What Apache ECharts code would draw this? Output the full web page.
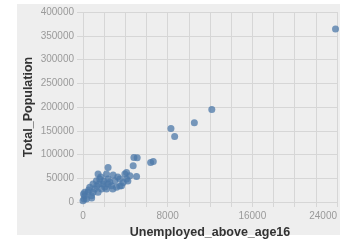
<!DOCTYPE html>
<html>
<head>
<meta charset="utf-8">
<script src="https://cdn.jsdelivr.net/npm/echarts@6/dist/echarts.min.js"></script>
<style>
  html, body { margin: 0; padding: 0; background: #fff; }
  #chart { width: 351px; height: 244px; }
</style>
</head>
<body>
<div id="chart"></div>
<script>
// values
const unemployed = [
    23860, 12170, 10520, 8310, 8660, 4810, 5120, 4740, 6390, 6640, 5060, 2370,
    100, 160, 474, 635, 948, 1270, 1583, 1422, 2218, 2844, 2370, 3005, 3479, 3953,
    4114, 4427, 3640, 3166, 2692, 2218, 1744, 1422, 948, 796, 322, 0, 1109, 1896,
    4114, 3792, 2370, 161, 50, 540, 1300, 1960, 2530, 3290, 820, 1490, 2060, 2815,
    3480, 4240, 1680
]
const population = [
    364300, 195000, 167100, 154500, 137800, 93700, 92900, 76100, 83200, 85300, 53900, 72800,
    6300, 13200, 20300, 30800, 37700, 44700, 48200, 58700, 58700, 57000, 48200, 44700, 48200, 58700,
    48200, 55200, 34200, 30800, 34200, 27300, 27300, 20300, 20300, 13200, 6300, 2700, 27300, 37700,
    62300, 41300, 37700, 20300, 16800, 25200, 33500, 44000, 41900, 52400, 8400, 37700, 31500, 27300,
    33500, 44000, 52400
]
const xTitle = 'Unemployed_above_age16'
const yTitle = 'Total_Population'

let myChart = echarts.init(document.getElementById('chart'))
const points = unemployed.map((item, index) => {
    return [item, population[index]]
})
const gridColor = '#d6d6d6'
const labelStyle = {
    color: '#9a9a9a',
    fontSize: 10,
    fontFamily: 'Liberation Sans, Arial, sans-serif'
}
const nameStyle = {
    color: '#333',
    fontSize: 12.5,
    fontWeight: 'bold',
    fontFamily: 'Liberation Sans, Arial, sans-serif'
}
const options = {
    animation: false,
    graphic: [{
        type: 'rect',
        left: 17,
        top: 4,
        shape: { width: 323, height: 231 },
        style: { fill: '#eeeeee' },
        z: -10
    }],
    grid: {
        left: 83,
        right: 14,
        top: 12,
        bottom: 41,
        containLabel: false
    },
    xAxis: {
        type: 'value',
        min: 0,
        max: 24000,
        interval: 2000,
        name: xTitle,
        nameLocation: 'middle',
        nameGap: 24,
        nameMoveOverlap: false,
        nameTextStyle: nameStyle,
        axisLine: { show: false },
        axisTick: { show: true, length: 5, lineStyle: { color: gridColor } },
        axisLabel: Object.assign({
            margin: 9,
            alignMaxLabel: 'right',
            formatter: v => (v % 8000 === 0 ? String(v) : '')
        }, labelStyle),
        splitLine: { show: true, lineStyle: { color: gridColor, width: 1 } }
    },
    yAxis: {
        type: 'value',
        min: 0,
        max: 400000,
        interval: 50000,
        name: yTitle,
        nameLocation: 'middle',
        nameGap: 48,
        nameMoveOverlap: false,
        nameTextStyle: nameStyle,
        axisLine: { show: false },
        axisTick: { show: true, length: 6, lineStyle: { color: gridColor } },
        axisLabel: Object.assign({ margin: 9, formatter: v => String(v) }, labelStyle),
        splitLine: { show: true, lineStyle: { color: gridColor, width: 1 } }
    },
    series: [{
        type: 'scatter',
        data: points,
        symbolSize: 7,
        itemStyle: { color: '#4c78a8', opacity: 0.75 }
    }]
}
myChart.setOption(options)
</script>
</body>
</html>
